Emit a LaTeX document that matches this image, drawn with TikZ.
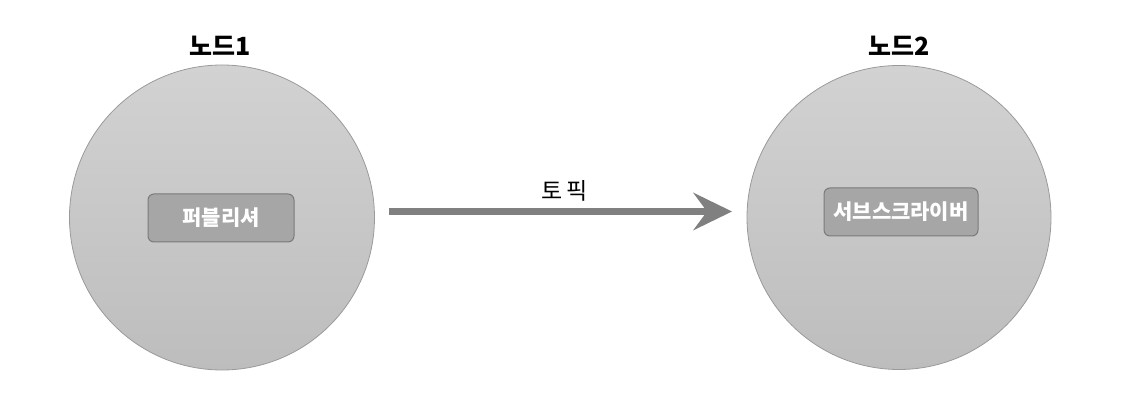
\documentclass[tikz,border=0pt]{standalone}
\usepackage{fontspec}
\setmainfont{Noto Sans CJK KR}
\usetikzlibrary{arrows.meta}
\definecolor{circtop}{HTML}{D2D2D2}
\definecolor{circbot}{HTML}{BDBDBD}
\definecolor{circline}{HTML}{9A9A9A}
\definecolor{boxfill}{HTML}{A6A6A6}
\definecolor{boxline}{HTML}{7A7A7A}
\definecolor{arrowcol}{HTML}{808080}
\tikzset{
  nodecircle/.style={circle, draw=circline, line width=0.8pt, top color=circtop, bottom color=circbot, minimum size=305pt, inner sep=0pt},
  rolebox/.style={rectangle, rounded corners=6pt, draw=boxline, line width=1pt, fill=boxfill, minimum height=48pt, inner sep=0pt, text=white, font=\bfseries\fontsize{21}{24}\selectfont},
  titletext/.style={font=\bfseries\fontsize{25}{28}\selectfont, text=black, inner sep=0pt},
  topicarrow/.style={draw=arrowcol, line width=7pt, -{Stealth[length=39pt, width=38pt, inset=14pt, line width=0pt]}},
  topiclabel/.style={font=\fontsize{23}{26}\selectfont, text=black, inner sep=0pt}
}
\begin{document}
\begin{tikzpicture}[x=1pt, y=1pt]
\useasboundingbox (0,0) rectangle (1122,420);
\node[nodecircle] (c1) at (222,202.5) {};
\node[nodecircle, minimum size=304pt] (c2) at (899,202.5) {};
\node[titletext] (t1) at (220,374) {노드1};
\node[titletext] (t2) at (899,374) {노드2};
\node[rolebox, minimum width=146pt] (pub) at (221,202) {퍼블리셔};
\node[rolebox, minimum width=154pt] (sub) at (901,208) {서브스크라이버};
\coordinate (a1) at (389,208.5);
\coordinate (a2) at (732,208.5);
\draw[topicarrow] (a1) -- (a2);
\node[topiclabel] (lbl) at (565,229) {토\,픽};
\end{tikzpicture}
\end{document}
